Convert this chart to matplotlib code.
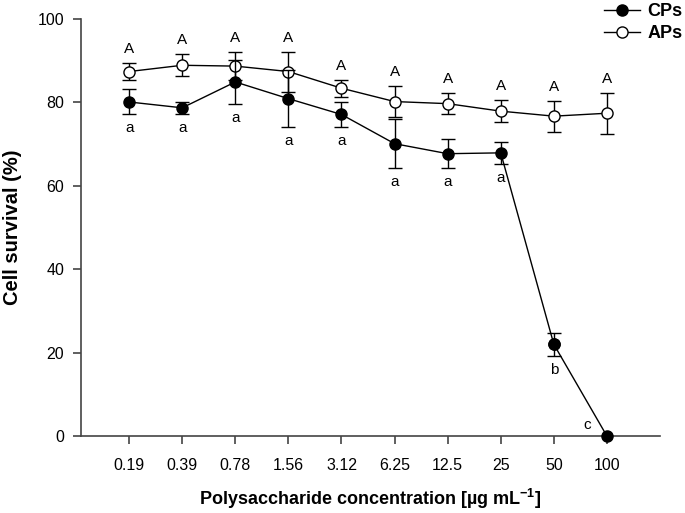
import numpy as np
import matplotlib
matplotlib.use("Agg")
import matplotlib.pyplot as plt
from matplotlib.lines import Line2D

plt.rcParams["font.family"] = ["Liberation Sans", "DejaVu Sans"]
plt.rcParams["mathtext.fontset"] = "custom"
plt.rcParams["mathtext.bf"] = "Liberation Sans:bold"
plt.rcParams["mathtext.rm"] = "Liberation Sans"

conc_labels = ["0.19", "0.39", "0.78", "1.56", "3.12", "6.25", "12.5", "25", "50", "100"]

cps_mean = [80.1, 78.7, 84.9, 80.9, 77.1, 70.1, 67.7, 67.9, 22.0, 0.0]
cps_err = [3.0, 1.5, 5.2, 6.8, 3.0, 5.8, 3.5, 2.7, 2.7, 0.0]
cps_letters = ["a", "a", "a", "a", "a", "a", "a", "a", "b", "c"]

aps_mean = [87.4, 88.9, 88.7, 87.4, 83.4, 80.2, 79.7, 77.9, 76.7, 77.4]
aps_err = [2.0, 2.6, 3.3, 4.8, 2.0, 3.8, 2.5, 2.7, 3.7, 4.9]
aps_letters = ["A"] * 10

x = np.arange(1, len(conc_labels) + 1)

fig = plt.figure(figsize=(6.85, 5.13), dpi=100)
ax = fig.add_axes([0.118, 0.150, 0.8455, 0.813])

ax.errorbar(x, aps_mean, yerr=aps_err, color="black", lw=1, marker="o",
            ms=8, mfc="white", mec="black", mew=1, capsize=5, elinewidth=1,
            capthick=1, zorder=3)
ax.errorbar(x[:-1], cps_mean[:-1], yerr=cps_err[:-1], color="black", lw=1,
            marker="o", ms=8, mfc="black", mec="black", capsize=5,
            elinewidth=1, capthick=1, zorder=4)
ax.plot(x[-2:], cps_mean[-2:], color="black", lw=1, marker="o", ms=8,
        mfc="black", mec="black", zorder=4, clip_on=False)

for xi, m, e, t in zip(x, aps_mean, aps_err, aps_letters):
    ax.annotate(t, (xi, m + e), xytext=(0, 5), textcoords="offset points",
                ha="center", va="bottom", fontsize=11)
for xi, m, e, t in zip(x, cps_mean, cps_err, cps_letters):
    if t == "c":
        ax.annotate(t, (xi, m), xytext=(-14, 3), textcoords="offset points",
                    ha="center", va="bottom", fontsize=11)
    else:
        ax.annotate(t, (xi, m - e), xytext=(0, -5), textcoords="offset points",
                    ha="center", va="top", fontsize=11)

ax.set_xlim(0.09, 11.0)
ax.set_ylim(0, 100)
ax.set_xticks(x)
ax.set_xticklabels(conc_labels)
ax.set_yticks([0, 20, 40, 60, 80, 100])
ax.spines["top"].set_visible(False)
ax.spines["right"].set_visible(False)
for s in ["left", "bottom"]:
    ax.spines[s].set_color("#444444")
    ax.spines[s].set_linewidth(1.2)
ax.tick_params(axis="both", direction="out", length=6, width=1.2,
               color="#444444", labelsize=11.5)
ax.tick_params(axis="x", pad=10)
ax.tick_params(axis="y", pad=6)

ax.set_xlabel(r"Polysaccharide concentration [µg mL$^{\mathbf{-1}}$]",
              fontsize=13, fontweight="bold", labelpad=10)
ax.set_ylabel("Cell survival (%)", fontsize=14.5, fontweight="bold", labelpad=11)

handles = [
    Line2D([], [], color="black", lw=1, marker="o", ms=8, mfc="black", mec="black"),
    Line2D([], [], color="black", lw=1, marker="o", ms=8, mfc="white", mec="black"),
]
leg = fig.legend(handles, ["CPs", "APs"], loc="upper right",
                 bbox_to_anchor=(1.02, 1.025), frameon=False, fontsize=13,
                 handlelength=2.0, handletextpad=0.4, labelspacing=0.25)
for t in leg.get_texts():
    t.set_fontweight("bold")

fig.savefig("out.png", dpi=100)
